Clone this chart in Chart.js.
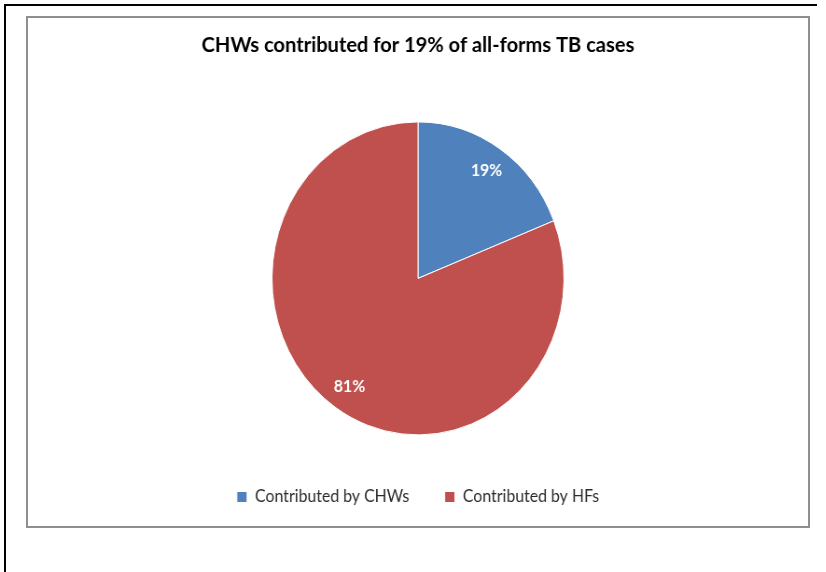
<!DOCTYPE html>
<html>
<head>
<meta charset="utf-8">
<script src="https://cdn.jsdelivr.net/npm/chart.js@4.4.0/dist/chart.umd.min.js"></script>
<style>
    html, body { margin: 0; padding: 0; background: #fff; }
    body { width: 826px; height: 572px; position: relative; overflow: hidden; }
    .edge { position: absolute; background: #000; }
    .frame { position: absolute; left: 26px; top: 16px; width: 784px; height: 512px; box-sizing: border-box; border: 2px solid #8f8f8f; }
    /* the original picture is squeezed horizontally, so draw wide and squeeze */
    .squeeze { position: absolute; left: 28px; top: 18px; width: 836px; height: 508px; transform: scaleX(0.933); transform-origin: 0 0; }
</style>
</head>
<body>
<div class="edge" style="left:4px; top:4px; width:2px; height:568px;"></div>
<div class="edge" style="left:4px; top:4px; width:813px; height:2px;"></div>
<div class="frame"></div>
<div class="squeeze"><canvas id="pieChart"></canvas></div>

<script>
// data
const categories = ["Contributed by CHWs", "Contributed by HFs"];
const shares = [19, 81];
const sliceColors = ["#4F81BD", "#C0504D"];
const chartTitle = "CHWs contributed for 19% of all-forms TB cases";

// white percent labels inside the slices
const sliceLabels = {
    id: "sliceLabels",
    afterDatasetsDraw(chart) {
        const ctx = chart.ctx;
        const meta = chart.getDatasetMeta(0);
        const total = shares.reduce((a, b) => a + b, 0);
        ctx.save();
        ctx.fillStyle = "#fff";
        ctx.font = "bold 17px Lato";
        ctx.textAlign = "center";
        ctx.textBaseline = "middle";
        meta.data.forEach((arc, i) => {
            const mid = (arc.startAngle + arc.endAngle) / 2;
            const r = arc.outerRadius * 0.835;
            const x = arc.x + Math.cos(mid) * r;
            const y = arc.y + Math.sin(mid) * r;
            ctx.fillText(Math.round(shares[i] / total * 100) + "%", x, y);
        });
        ctx.restore();
    }
};

const ctx = document.getElementById("pieChart").getContext("2d");
new Chart(ctx, {
    type: "pie",
    data: {
        labels: categories,
        datasets: [{
            data: shares,
            backgroundColor: sliceColors,
            borderColor: "#ffffff",
            borderWidth: 1,
            radius: 156.5
        }]
    },
    options: {
        responsive: true,
        maintainAspectRatio: false,
        animation: false,
        layout: { padding: { bottom: 10.5 } },
        plugins: {
            title: {
                display: true,
                text: chartTitle,
                color: "#000",
                font: { family: "Lato", size: 21.5, weight: "bold" },
                padding: { top: 14.5, bottom: 48 }
            },
            legend: {
                position: "bottom",
                labels: {
                    color: "#2b2b2b",
                    font: { family: "Lato", size: 17 },
                    boxWidth: 11,
                    boxHeight: 11,
                    padding: 38
                }
            },
            tooltip: { enabled: false }
        }
    },
    plugins: [sliceLabels]
});
</script>
</body>
</html>
